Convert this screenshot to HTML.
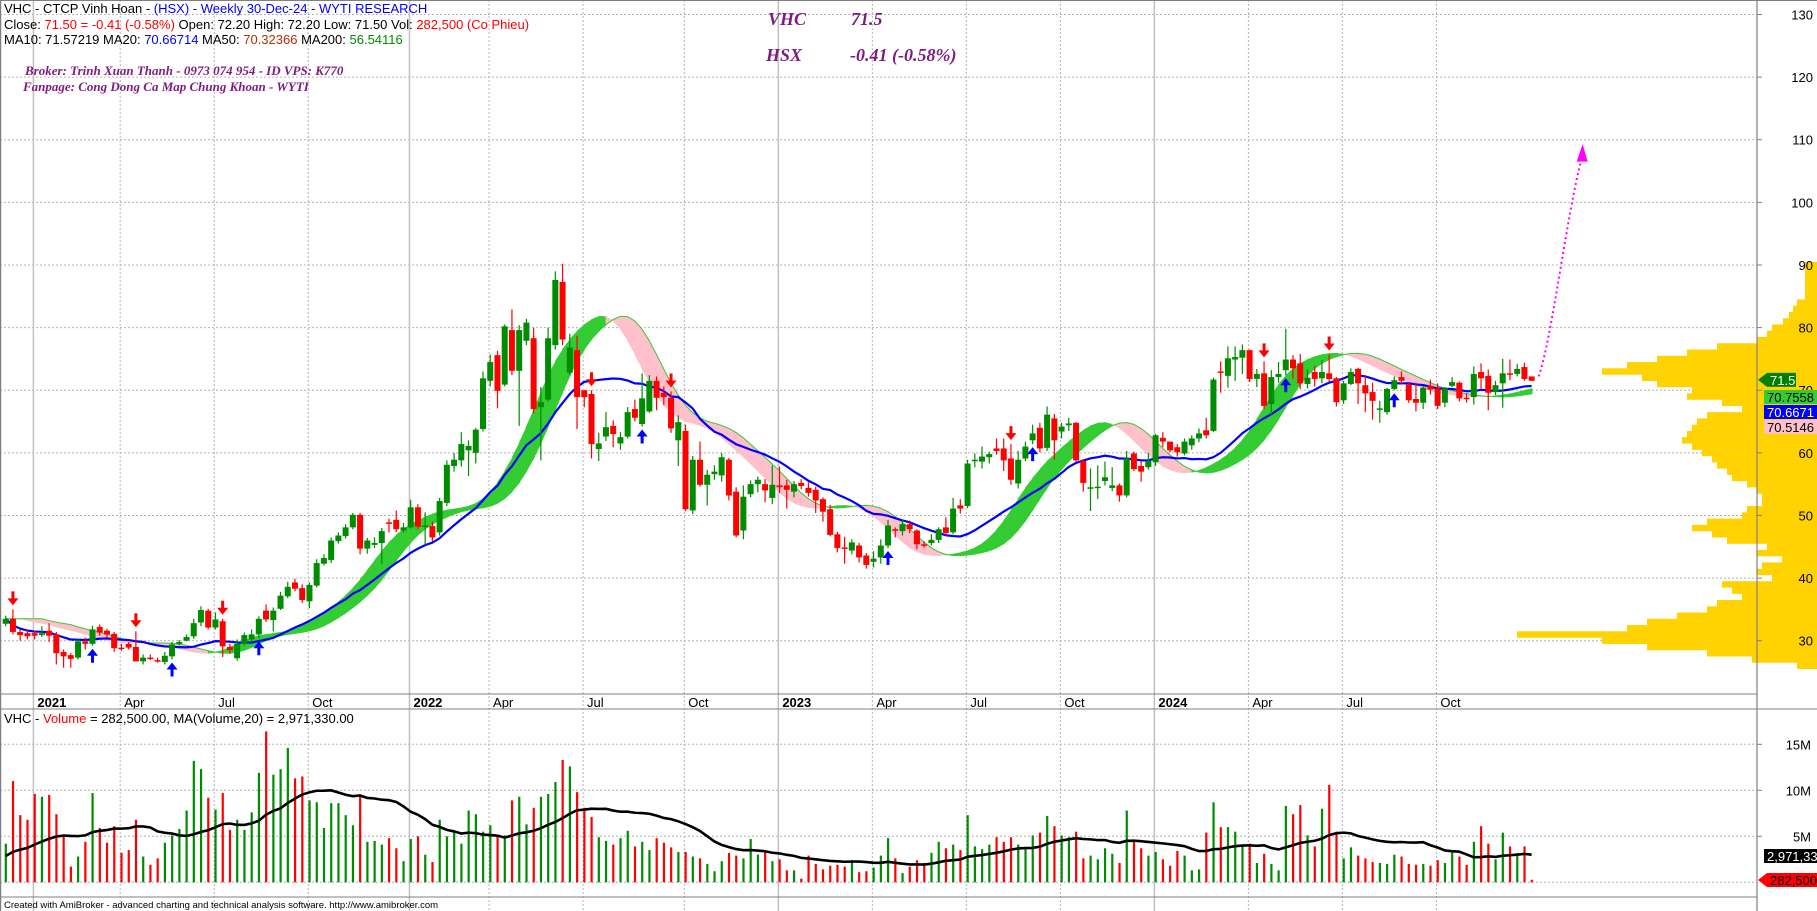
<!DOCTYPE html>
<html><head><meta charset="utf-8"><title>VHC Weekly</title>
<style>
html,body{margin:0;padding:0;background:#fff;}
svg{display:block;font-family:"Liberation Sans",Arial,sans-serif;}
.tk{font-size:13px;fill:#000;}
.hd{font-size:13px;}
.pur{font-family:"Liberation Serif",serif;font-style:italic;font-weight:bold;fill:#7f1b7f;}
</style></head>
<body>
<svg id="chart" xmlns="http://www.w3.org/2000/svg" width="1817" height="911" viewBox="0 0 1817 911">
<rect x="0" y="0" width="1817" height="911" fill="#fff"/>
<g id="grid"></g>
<g id="profile"></g>
<g id="ribbon"></g>
<g id="ma"></g>
<g id="candles"></g>
<g id="signals"></g>
<g id="vol"></g>
<g id="axes"></g>
<g>
<text class="hd" x="4" y="13"><tspan fill="#000">VHC - CTCP Vinh Hoan - </tspan><tspan fill="#0000ff">(HSX) - Weekly 30-Dec-24 - WYTI RESEARCH</tspan></text>
<text class="hd" x="4" y="29"><tspan fill="#000">Close: </tspan><tspan fill="#ff0000">71.50 = -0.41 (-0.58%)</tspan><tspan fill="#000"> Open: 72.20 High: 72.20 Low: 71.50 Vol: </tspan><tspan fill="#ff0000">282,500 (Co Phieu)</tspan></text>
<text class="hd" x="4" y="44"><tspan fill="#000">MA10: 71.57219 MA20: </tspan><tspan fill="#0000ff">70.66714</tspan><tspan fill="#000"> MA50: </tspan><tspan fill="#b03000">70.32366</tspan><tspan fill="#000"> MA200: </tspan><tspan fill="#008c00">56.54116</tspan></text>
<text class="pur" x="25" y="75" font-size="13">Broker: Trinh Xuan Thanh - 0973 074 954 - ID VPS: K770</text>
<text class="pur" x="23" y="91" font-size="13">Fanpage: Cong Dong Ca Map Chung Khoan - WYTI</text>
<text class="pur" x="768" y="25" font-size="18">VHC</text>
<text class="pur" x="851" y="25" font-size="18">71.5</text>
<text class="pur" x="766" y="61" font-size="18">HSX</text>
<text class="pur" x="850" y="61" font-size="18">-0.41 (-0.58%)</text>
<text x="4" y="723" font-size="13"><tspan fill="#000">VHC - </tspan><tspan fill="#ff0000">Volume</tspan><tspan fill="#000"> = 282,500.00, MA(Volume,20) = 2,971,330.00</tspan></text>
<text x="4" y="908" font-size="9.5" fill="#000">Created with AmiBroker - advanced charting and technical analysis software. http://www.amibroker.com</text>
</g>
<g id="overlay"></g>
</svg>
<script>
const opens=[32.7,33.5,31.4,31.2,31.2,30.9,31.6,31.0,28.2,27.7,27.3,29.9,29.5,32.2,31.6,31.1,28.9,29.5,29.0,26.7,27.3,26.9,26.6,27.5,29.5,30.0,30.7,32.9,34.8,32.1,33.1,29.0,27.2,29.5,30.2,31.0,34.8,33.3,35.1,37.1,39.3,38.4,36.3,38.8,42.3,42.9,45.9,46.7,48.1,50.1,44.7,45.3,45.6,48.9,49.3,47.6,48.1,51.3,48.3,48.3,47.3,52.0,57.9,58.8,60.4,60.0,63.8,71.5,75.6,70.9,79.6,73.1,77.9,78.3,67.3,68.5,77.2,87.3,72.8,76.4,70.0,69.4,60.6,62.6,64.3,61.5,62.6,67.0,64.6,66.6,71.5,69.6,68.8,62.0,63.5,50.8,58.9,54.9,56.6,56.4,58.9,53.8,47.6,53.4,55.0,55.0,52.8,54.8,54.8,53.8,55.2,54.4,54.1,52.6,51.0,47.0,44.9,44.4,45.2,43.6,42.6,43.3,45.2,47.8,47.5,48.6,47.6,45.4,45.6,46.1,48.1,47.3,51.6,51.5,58.7,58.6,59.3,60.7,60.7,59.1,55.1,59.1,62.0,64.0,60.8,65.5,63.4,64.4,64.8,58.7,54.3,54.4,55.5,54.4,54.8,53.2,59.9,57.9,57.7,58.5,62.4,61.8,60.9,59.9,61.2,62.3,63.6,63.5,73.0,72.3,74.9,75.2,76.4,71.8,72.7,67.8,72.1,73.2,74.9,74.3,71.0,72.9,71.9,72.7,71.9,68.4,71.0,73.4,70.8,69.7,66.9,66.5,70.2,72.1,70.9,68.6,68.0,70.7,70.3,68.0,70.7,71.2,68.8,68.9,72.9,72.3,69.7,71.1,72.7,72.6,73.7,72.2];
const closes=[33.5,31.4,30.9,30.7,30.8,31.2,30.8,28.0,27.5,27.1,29.9,29.5,31.8,31.3,31.0,28.8,28.8,28.9,26.7,27.3,27.2,26.8,27.6,29.4,29.8,30.6,32.8,34.9,32.1,33.4,29.1,28.5,29.5,30.9,31.0,33.5,33.4,34.8,37.2,38.6,38.3,36.5,38.9,42.4,43.2,46.0,46.8,48.1,50.1,44.7,46.0,45.6,47.5,48.8,47.8,48.1,51.3,48.2,48.4,46.5,52.3,58.1,58.9,61.4,61.1,63.7,71.9,74.5,69.9,80.2,73.1,79.6,80.8,67.0,68.1,78.3,87.6,78.1,76.8,68.9,68.9,61.4,61.5,64.1,63.0,62.5,66.5,65.6,68.7,71.5,68.8,68.9,63.9,64.9,51.0,58.9,54.9,56.5,57.0,59.3,53.2,46.8,53.0,55.0,55.7,54.0,54.9,54.5,54.1,55.0,54.7,53.6,52.4,50.6,46.9,44.8,44.8,45.7,43.3,42.1,43.1,45.2,48.4,47.6,48.6,47.8,45.4,45.3,46.1,47.8,47.2,51.1,51.1,58.3,58.9,59.4,59.8,60.3,58.8,55.7,58.9,61.0,63.1,60.7,66.1,62.0,64.2,64.7,58.8,55.2,54.5,54.6,56.1,54.8,53.2,59.1,57.4,57.0,58.7,62.8,61.8,60.4,60.1,61.8,62.3,63.1,62.8,71.7,72.8,75.1,75.3,76.4,71.8,72.6,67.5,72.1,72.6,74.9,73.5,71.1,72.0,71.8,72.9,71.8,68.1,71.1,72.9,71.1,69.5,68.3,67.1,70.2,71.6,71.5,68.4,68.0,70.4,70.1,67.5,70.3,71.3,68.7,68.7,72.6,71.9,69.6,70.8,72.7,72.6,73.4,71.8,71.5];
const highs=[34.0,35.0,31.8,31.8,31.6,32.3,32.8,31.4,28.6,28.0,30.2,30.5,32.4,32.6,31.9,31.4,29.5,29.8,31.5,27.8,27.8,27.3,28.2,29.8,30.1,31.0,33.5,35.5,35.1,34.5,33.5,29.5,30.2,31.3,31.8,33.9,35.8,35.3,37.8,39.4,39.9,39.0,39.3,43.0,43.8,46.5,47.3,48.6,50.4,50.4,46.4,46.5,48.0,49.5,50.8,48.8,52.5,51.8,50.5,49.0,52.8,58.8,60.0,63.3,62.0,64.0,73.0,75.7,76.3,80.5,82.9,80.4,81.4,80.0,70.5,80.0,89.0,90.2,79.0,78.7,70.0,70.0,63.2,66.5,65.2,63.3,67.3,68.5,72.7,72.4,72.2,70.6,69.8,66.0,64.5,59.5,61.8,57.3,58.0,60.0,59.2,54.5,54.8,55.6,56.2,55.8,58.0,57.8,55.7,55.5,55.8,55.3,54.6,52.9,51.7,47.4,46.6,46.2,45.6,44.0,44.3,46.2,49.3,48.1,49.4,49.2,47.8,45.9,47.0,48.1,49.7,52.8,52.6,58.9,59.9,61.0,60.2,62.3,62.3,61.4,60.3,61.8,64.5,64.8,67.4,66.2,64.8,65.6,64.9,59.0,57.5,58.0,58.6,57.7,55.1,60.3,60.2,58.6,60.0,63.0,63.3,61.8,61.4,62.3,62.8,63.9,65.6,72.0,74.6,77.0,77.0,77.3,76.5,73.4,74.6,73.2,74.5,79.8,75.6,75.8,73.3,73.9,74.8,75.7,72.1,71.5,73.5,73.6,72.4,71.2,68.3,70.4,72.2,73.0,71.2,71.2,70.6,71.7,71.1,70.5,72.1,71.4,69.5,73.8,74.3,73.3,71.5,75.0,74.9,74.2,74.4,72.2];
const lows=[32.3,31.0,30.0,30.2,30.2,30.6,29.8,26.2,25.7,25.7,27.0,28.6,29.2,30.8,30.5,28.2,28.4,28.6,26.7,26.2,26.9,26.5,26.2,27.0,29.3,29.9,30.3,32.3,31.8,31.8,27.4,27.9,26.8,29.2,29.8,30.4,33.0,31.5,34.9,36.8,37.9,36.0,35.2,38.5,42.0,42.4,45.5,46.3,47.8,43.8,43.9,44.8,42.2,47.3,47.3,47.3,47.9,47.8,45.3,45.8,46.8,51.5,57.0,57.8,56.3,58.3,63.4,70.6,67.1,70.6,72.4,64.3,77.2,66.3,58.8,68.2,76.5,77.2,72.4,63.8,67.3,59.1,58.7,61.9,60.9,60.5,62.3,65.0,64.2,66.4,66.8,67.6,63.2,57.9,50.7,50.2,54.6,51.6,55.7,55.4,52.4,46.5,46.2,52.9,53.7,52.1,51.8,53.6,51.1,52.9,54.2,53.0,50.4,49.0,46.7,44.1,42.3,43.8,42.5,41.5,41.7,42.3,44.8,46.5,46.8,47.2,44.6,44.9,45.2,45.6,46.8,47.0,50.3,51.2,57.7,57.5,58.3,59.7,57.1,54.9,54.3,58.7,61.4,60.1,60.3,58.9,62.3,63.5,58.5,53.8,50.7,52.6,54.8,53.9,52.2,52.9,57.1,55.4,57.3,57.9,60.9,60.1,59.4,59.6,60.5,61.7,62.3,63.3,69.6,70.4,71.5,72.6,71.3,70.5,67.0,66.0,71.2,72.4,71.8,70.2,70.3,70.6,71.1,71.4,67.4,67.8,70.8,67.8,66.5,65.3,64.8,66.1,70.0,70.9,68.0,66.6,67.0,69.3,67.0,67.3,70.5,68.2,68.0,67.7,70.2,66.8,69.2,67.2,71.6,72.2,71.5,71.5];
const volumesM=[4.2,11.0,7.3,6.8,9.6,9.3,9.5,7.4,5.1,1.7,2.8,4.4,9.7,5.9,4.3,6.1,3.2,3.5,6.8,2.8,1.9,2.6,4.3,5.1,5.8,7.8,13.2,12.3,9.2,7.9,9.7,5.7,6.8,5.7,7.6,11.9,16.4,11.7,12.3,14.6,11.3,11.5,8.9,8.7,5.9,8.6,8.6,7.3,6.2,9.3,4.4,4.5,4.1,4.8,3.7,2.3,4.7,5.0,3.0,2.2,6.8,5.0,5.5,4.2,7.8,7.4,5.5,6.2,5.0,5.1,8.9,9.3,6.3,8.1,9.3,9.6,10.9,13.3,12.6,9.8,8.1,7.1,4.9,4.5,4.1,4.8,5.6,3.9,4.4,3.5,4.8,4.3,3.8,3.3,3.3,2.8,2.6,2.0,1.2,2.3,3.2,2.9,2.6,4.7,3.0,3.3,2.3,2.5,1.3,1.3,0.4,2.9,2.0,1.4,1.8,1.9,1.7,2.4,1.1,1.2,1.6,2.9,4.8,2.6,1.0,1.7,2.4,2.1,3.2,4.4,3.7,4.1,3.5,7.3,3.9,3.6,4.1,4.9,4.4,4.9,4.1,3.7,5.1,5.4,7.2,6.1,5.1,4.9,5.5,2.6,2.9,2.5,3.7,3.1,2.1,7.8,4.5,3.7,2.9,3.3,2.5,1.8,3.4,2.9,1.3,1.4,5.4,8.7,6.0,6.0,5.5,3.9,4.2,2.1,3.1,2.0,1.3,8.3,7.4,8.4,5.1,3.9,8.0,10.6,5.5,2.6,3.8,2.9,2.6,2.2,2.1,2.0,3.0,2.8,2.0,1.9,2.0,1.8,2.4,2.1,3.5,2.8,1.9,4.4,6.1,4.2,2.5,5.4,3.9,3.2,3.9,0.28];
const priorVolumesM=[2.0,2.5,3.0,2.2,2.8,3.5,2.6,3.0,2.4,3.2,2.8,2.5,3.1,2.7,2.9,3.3,2.6,3.0,2.8];
const sellSignals=[1,18,30,81,92,139,174,183];
const buySignals=[12,23,35,88,122,142,177,192];
const priceTicks=[30,40,50,60,70,80,90,100,110,120,130];
const volTicks=[5,10,15];
const volTickLabels=["5M","10M","15M"];
const dateWeeks=[4,16,29,42,56,67,80,94,107,120,133,146,159,172,185,198];
const dateLabels=["2021","Apr","Jul","Oct","2022","Apr","Jul","Oct","2023","Apr","Jul","Oct","2024","Apr","Jul","Oct"];
const profilePrices=[26,27,28,29,30,31,32,33,34,35,36,37,38,39,40,41,42,43,44,45,46,47,48,49,50,51,52,53,54,55,56,57,58,59,60,61,62,63,64,65,66,67,68,69,70,71,72,73,74,75,76,77,78,79,80,81,82,83,84,85,86,87,88,89,90];
const profileVolumes=[20,65,110,170,215,300,190,170,140,110,100,75,85,95,45,60,55,35,60,50,90,105,125,110,75,70,55,55,60,70,85,90,100,105,115,125,135,130,125,120,110,75,95,130,125,160,175,215,190,160,130,100,60,50,45,34,28,24,20,12,12,12,12,12,12];

const NS="http://www.w3.org/2000/svg";
const PLOT_R=1757;
function xOf(i){return 5.7+7.232*i;}
function yP(p){return 14.5+(130-p)*6.262;}
function yV(v){return 882.3-v*9.2;}
function mk(tag,attrs,parent){const e=document.createElementNS(NS,tag);for(const k in attrs)e.setAttribute(k,attrs[k]);parent.appendChild(e);return e;}
const G=id=>document.getElementById(id);
const N=closes.length;

// grid
const grid=G('grid');
priceTicks.forEach(p=>{
  const l=mk('line',{x1:0,x2:PLOT_R,y1:yP(p),y2:yP(p),stroke:'#b4b4b4','stroke-dasharray':'2,2','stroke-width':1},grid);
  
  
});
volTicks.concat([0]).forEach(v=>{
  const l=mk('line',{x1:0,x2:PLOT_R,y1:yV(v),y2:yV(v),stroke:'#b4b4b4','stroke-dasharray':'2,2','stroke-width':1},grid);
  
  
});
dateWeeks.forEach((w,k)=>{
  const x=xOf(w)-1.2;
  const yr=/^\d{4}$/.test(dateLabels[k]);
  const a={x1:x,x2:x,y1:0,y2:911,stroke:yr?'#c0c0c0':'#b4b4b4','stroke-width':yr?1.5:1};
  if(!yr)a['stroke-dasharray']='2,2';
  const l=mk('line',a,grid);
  
  
  const t=mk('text',{x:x+4,y:707,'font-size':13,'font-weight':yr?'bold':'normal',fill:'#000'},grid);
  t.textContent=dateLabels[k];
  
  
});

// volume profile
const prof=G('profile');
profilePrices.forEach((p,k)=>{
  const w=profileVolumes[k];
  const r=mk('rect',{x:1817-w,y:yP(p+0.5),width:w,height:6.4,fill:'#ffd200'},prof);
  
  
});

// moving averages
function sma(a,n){return a.map((_,i)=>{const s=Math.max(0,i-n+1);let t=0;for(let j=s;j<=i;j++)t+=a[j];return t/(i-s+1);});}
function wma(a,n){return a.map((_,i)=>{let t=0,ws=0;for(let j=0;j<n&&i-j>=0;j++){const w=n-j;t+=a[i-j]*w;ws+=w;}return t/ws;});}
const w15=wma(closes,15),w30=wma(closes,30);
const hma=sma(wma(w15.map((v,i)=>2*v-w30[i]),6),5);
const ribA=closes.map((_,i)=>hma[Math.max(0,i-2)]);
const ribB=closes.map((_,i)=>hma[Math.max(0,i-5)]);
const rib=G('ribbon');
for(let i=1;i<N;i++){
  const up=ribA[i]>=ribB[i];
  const pts=[[xOf(i-1),yP(ribA[i-1])],[xOf(i)+0.5,yP(ribA[i])],[xOf(i)+0.5,yP(ribB[i])],[xOf(i-1),yP(ribB[i-1])]].map(q=>q.join(',')).join(' ');
  const pg=mk('polygon',{points:pts,fill:up?'#33cc33':'#ffc0cb',stroke:up?'#33cc33':'#ffc0cb','stroke-width':0.6},rib);
  
  
}
const ribLine=mk('polyline',{points:ribB.map((v,i)=>xOf(i)+','+yP(v)).join(' '),fill:'none',stroke:'#33cc33','stroke-width':1},rib);



const ma20=sma(closes,20);
const maLine=mk('polyline',{points:ma20.map((v,i)=>xOf(i)+','+yP(v)).join(' '),fill:'none',stroke:'#0000ff','stroke-width':2.2},G('ma'));



// candles
const cg=G('candles');
for(let i=0;i<N;i++){
  const o=opens[i],c=closes[i],x=xOf(i);
  const col=c>=o?'#008c00':'#ff0000';
  const wk=mk('line',{x1:x,x2:x,y1:yP(highs[i]),y2:yP(lows[i]),stroke:col,'stroke-width':1.2},cg);
  
  
  const top=yP(Math.max(o,c)),bot=yP(Math.min(o,c));
  const b=mk('rect',{x:x-3,y:top,width:6,height:Math.max(1.5,bot-top),fill:col},cg);
  
  
}

// signals
const sg=G('signals');
sellSignals.forEach(i=>{
  const x=xOf(i),y=yP(highs[i])-4;
  const p=mk('path',{d:`M${x-1.5},${y-14}h3v7h4l-5.5,7l-5.5,-7h4z`,fill:'#ff0000'},sg);
  
  
});
buySignals.forEach(i=>{
  const x=xOf(i),y=yP(lows[i])+3;
  const p=mk('path',{d:`M${x-1.5},${y+14}h3v-7h4l-5.5,-7l-5.5,7h4z`,fill:'#0000ff'},sg);
  
  
});

// volume
const vg=G('vol');
for(let i=0;i<N;i++){
  const col=closes[i]>=opens[i]?'#008c00':'#ff0000';
  const r=mk('rect',{x:xOf(i)-1,y:yV(volumesM[i]),width:2.2,height:yV(0)-yV(volumesM[i]),fill:col},vg);
  
  
}
const allVol=priorVolumesM.concat(volumesM);
const vma=sma(allVol,20).slice(priorVolumesM.length);
const vml=mk('polyline',{points:vma.map((v,i)=>xOf(i)+','+yV(v)).join(' '),fill:'none',stroke:'#000','stroke-width':2.6},vg);



// axes
const ax=G('axes');
[[0,0.5,1817,0.5],[0,694,PLOT_R,694],[0,709,1817,709],[0,897,PLOT_R,897]].forEach(a=>{
  const l=mk('line',{x1:a[0],y1:a[1],x2:a[2],y2:a[3],stroke:'#808080','stroke-width':1},ax);
  
  
});
const rl=mk('line',{x1:PLOT_R,x2:PLOT_R,y1:0,y2:911,stroke:'#808080','stroke-width':1.2},ax);


const ll=mk('line',{x1:0.5,x2:0.5,y1:0,y2:911,stroke:'#808080','stroke-width':1.5},ax);


priceTicks.forEach(p=>{
  const tm=mk('line',{x1:PLOT_R,x2:PLOT_R+5,y1:yP(p),y2:yP(p),stroke:'#808080'},ax);
  
  
  const t=mk('text',{x:1813,y:yP(p)+5,'text-anchor':'end',class:'tk'},ax);
  t.textContent=String(p);
  
  
});
volTicks.forEach((v,k)=>{
  const tm=mk('line',{x1:PLOT_R,x2:PLOT_R+5,y1:yV(v),y2:yV(v),stroke:'#808080'},ax);
  
  
  const t=mk('text',{x:1811,y:yV(v)+5,'text-anchor':'end',class:'tk'},ax);
  t.textContent=volTickLabels[k];
  
  
});

// overlay: badges and projection arrow
const ov=G('overlay');
function badge(y,bg,fg,txt,name,arrow){
  const x0=arrow?1767:1764;
  if(arrow){
    const a=mk('path',{d:`M1758,${y}L${x0},${y-7}V${y+7}Z`,fill:bg},ov);
    
    
  }
  const w=arrow&&txt.length<5?29:1817-x0;
  const r=mk('rect',{x:x0,y:y-7,width:w,height:14,fill:bg},ov);
  
  
  const t=mk('text',{x:x0+3,y:y+5,'font-size':13,fill:fg},ov);
  t.textContent=txt;
  
  
}
badge(yP(71.5)-1,'#008000','#fff','71.5','last-close-badge',true);
badge(397,'#33cc33','#000','70.7558','ribbon-upper-badge',false);
badge(412,'#0000ff','#fff','70.6671','ma20-badge',false);
badge(427,'#ffc0cb','#000','70.5146','ribbon-lower-badge',false);
badge(856,'#000','#fff','2,971,330','volume-ma-badge',false);
badge(880,'#ff0000','#000','282,500','last-volume-badge',true);

const xl=xOf(N-1);
const proj=mk('path',{d:`M${xl+7},${yP(72.2)} C${xl+20},${yP(78)} ${xl+35},${yP(98)} ${xl+50},${yP(107)}`,fill:'none',stroke:'#ff00ff','stroke-width':2,'stroke-dasharray':'2,3'},ov);


const ph=mk('path',{d:`M${xl+51},${yP(109.3)}L${xl+45},${yP(106.5)}L${xl+56},${yP(106.5)}Z`,fill:'#ff00ff'},ov);


</script>
</body></html>
